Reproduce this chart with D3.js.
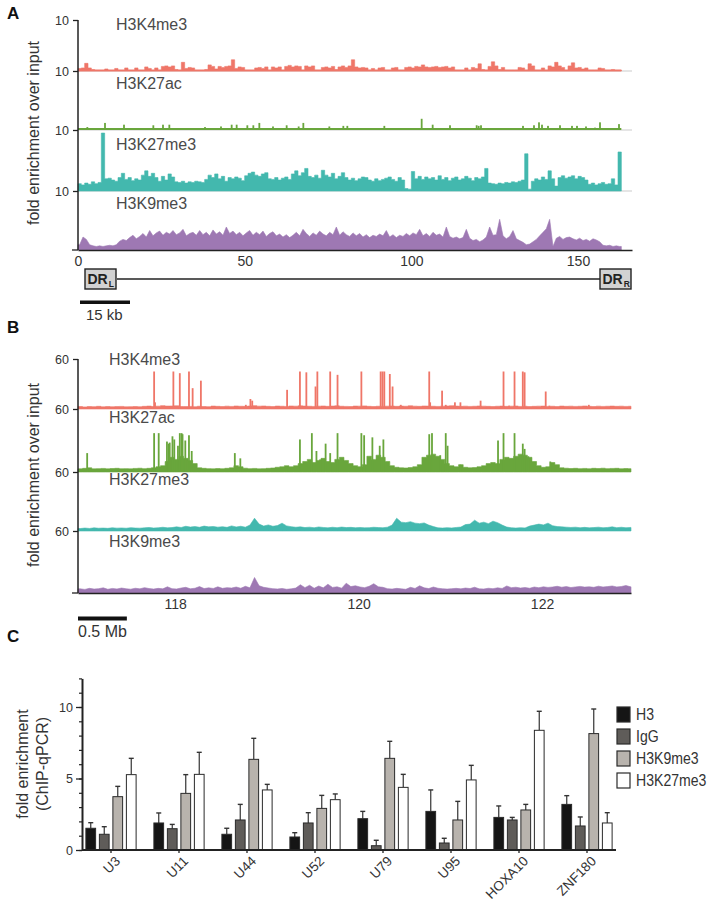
<!DOCTYPE html>
<html><head><meta charset="utf-8">
<script src="https://cdn.jsdelivr.net/npm/d3@7"></script>
<style>
body{margin:0;background:#fff}
svg{display:block;font-family:"Liberation Sans",Arial,Helvetica,sans-serif}
</style>
</head><body>
<svg id="c" width="708" height="905"></svg>
<script>
// ---------------- DATA ----------------
// Panel A: 1-kb bins from 0 kb (fold enrichment, track scale 0-10)
const A_K4me3 = [
0.5,0.6,1.5,0.6,0.3,0.2,0.2,0.2,0.4,0.2, 0.2,0.5,0.2,0.2,0.6,0.2,0.2,0.6,0.2,0.2,
0.8,0.5,0.2,0.6,0.2,0.9,1.0,0.8,1.0,0.3, 0.2,1.7,0.5,0.7,0.6,0.2,0.2,0.2,0.3,1.2,
0.9,0.4,0.9,0.7,0.9,1.0,2.2,0.5,0.8,0.7, 0.2,0.2,0.2,0.6,0.7,0.5,0.8,0.2,0.8,0.6,
0.8,0.2,0.9,1.1,0.8,1.0,0.9,0.2,1.0,0.8, 1.0,0.2,0.2,0.7,0.8,0.6,0.9,0.3,0.8,1.0,
0.7,1.0,2.2,0.8,0.6,0.7,0.6,0.2,0.5,0.2, 0.6,0.7,0.2,0.2,0.6,0.7,0.2,0.2,0.7,0.8,
0.6,0.9,0.8,1.2,0.8,0.7,0.8,0.9,0.7,0.8, 0.9,0.6,0.8,0.2,0.2,0.2,0.6,0.2,0.7,0.5,
1.4,0.3,0.2,0.9,1.8,1.0,0.3,0.7,0.2,0.2, 0.2,0.2,0.7,0.6,0.2,1.4,1.0,0.2,0.2,0.6,
0.2,1.0,0.8,1.7,1.0,0.7,0.2,1.0,1.6,0.6, 0.7,0.4,0.6,0.2,0.2,0.2,0.6,0.5,0.2,0.2,
0.3,0.2,0.2];
const A_K27ac_base = 0.15;
const A_K27ac_peaks = [[2.8,0.5],[8.1,1.2],[13.8,0.9],[22.6,0.8],[25.5,0.9],[27.4,0.9],[38.1,0.5],[42.9,0.6],[46.1,0.9],[47.6,0.9],
[50.8,0.8],[52.6,0.8],[54.4,1.2],[58.5,0.6],[62.6,0.8],[66.2,0.6],[67.6,1.2],[75.4,0.6],[79.6,0.7],[80.8,0.7],
[91.9,0.7],[103.1,1.9],[106.4,0.9],[111.6,0.8],[119.6,0.8],[120.2,0.7],[120.9,0.8],[133.5,0.7],[136.8,0.8],[138.3,1.3],
[139.2,0.9],[141.0,0.7],[144.6,0.8],[148.2,0.7],[149.7,0.7],[152.4,0.6],[155.1,0.4],[156.6,1.3],[162.3,1.0]];
const A_K27me3 = [
1.2,1.0,1.3,1.1,1.5,1.2,1.4,9.5,2.0,2.1, 1.8,1.6,2.2,2.9,1.9,2.2,1.7,2.0,1.8,2.6,
3.3,2.4,2.9,2.2,1.6,2.4,1.8,2.8,2.3,1.5, 1.4,1.6,1.3,1.5,1.4,1.6,1.5,1.4,1.9,2.6,
2.2,2.8,2.0,2.4,1.6,2.2,2.0,2.3,2.1,1.7, 2.5,2.9,3.1,2.6,2.4,2.8,3.0,2.0,1.9,2.2,
1.8,2.1,2.3,1.9,2.8,3.3,2.5,3.0,3.7,2.4, 2.2,2.6,2.1,3.4,2.6,2.3,2.9,2.0,2.4,3.0,
2.2,1.8,2.1,1.7,2.0,2.3,2.2,1.8,1.6,2.0, 1.7,1.9,2.1,2.3,1.9,1.6,2.2,1.8,0.4,0.3,
3.2,2.0,2.4,1.9,2.3,2.0,2.2,1.8,2.5,1.9, 2.2,1.7,2.1,2.3,1.8,2.0,2.4,2.1,1.7,2.2,
2.0,2.3,3.7,1.3,1.2,1.1,1.3,1.2,1.4,1.3, 1.5,1.4,1.6,1.8,6.1,0.3,1.6,2.0,1.8,2.3,
1.9,3.3,2.0,0.8,2.2,2.5,2.1,2.3,2.5,2.0, 2.4,2.2,1.8,1.1,1.3,1.0,1.2,1.4,1.1,1.2,
2.0,1.0,6.4];
const A_K9me3 = [
0.9,2.2,1.8,0.9,0.7,0.6,0.7,0.6,0.7,0.8, 0.7,0.9,1.5,1.8,1.6,2.1,2.5,1.9,2.3,2.8,
2.2,3.3,2.4,2.9,3.2,2.5,3.0,2.7,3.3,2.6, 2.9,3.5,2.4,2.8,3.0,2.5,3.3,2.6,3.0,2.4,
3.4,2.7,3.1,2.5,3.9,2.8,3.2,2.6,3.0,2.4, 2.9,3.3,2.5,3.0,2.6,3.2,2.3,2.8,3.1,2.4,
2.7,2.2,2.6,2.1,2.5,3.0,2.4,3.5,2.8,2.3, 2.9,2.5,3.2,2.7,2.4,3.0,2.6,3.9,2.5,3.1,
2.6,2.3,2.9,2.4,2.8,2.2,2.6,2.1,2.5,2.3, 2.7,2.4,3.3,2.2,2.6,2.1,2.5,2.3,2.8,2.4,
2.9,2.6,3.5,2.4,2.8,2.3,3.0,2.5,2.7,2.2, 3.9,2.3,2.0,2.2,1.9,2.1,3.5,2.0,1.6,1.8,
1.4,1.7,2.2,3.9,2.5,2.6,5.2,2.4,1.9,2.3, 3.3,1.9,1.6,1.3,0.9,1.0,1.4,1.8,2.4,3.0,
3.6,5.2,0.6,2.0,2.3,1.8,2.1,2.2,1.9,1.7, 2.0,1.6,1.8,1.5,1.9,1.7,1.4,0.8,0.7,0.8,
0.6,0.7,0.6];
const A_ticks = [0, 50, 100, 150];

// Panel B: 0.05-Mb bins from 116.94 Mb (track scale 0-60)
const B_K4me3_bg = [
3,2.5,3,2.8,3.2,2.6,3,2.7,2.9,3.1, 2.6,2.8,3,2.7,3.2,3.5,3,3.4,4,3.5,
3.6,3.8,3,2.9,3.1,2.7,3.3,3,2.8,3.5, 3.2,3,3.4,3.1,3.6,3.3,3.2,3.5,4,3.4,
3.6,3.2,3,3.5,3.3,3.1,3.6,3.4,3.8,3.5, 3.3,3.1,3.4,3.6,3.2,3.5,3.8,3.3,3.1,3,
3.5,3.4,3.7,3.2,3,3.3,3.1,3.4,3.6,3.2, 3.5,3.3,3.8,3.4,3.2,3.6,3.5,3.3,3.1,3.4,
3.6,3.9,3.5,3.2,3.4,3.1,3.3,3.6,3.4,3.2, 3,3.3,3.5,3.2,3.4,3.6,3.1,3.3,3,3.2,
3.4,3.5,3.1,3.3,3,3.5,3.2,3.4,3.1,3.3, 3.6,3.2,3,3.4,3.1,3.3,3.5,3.2,3.4,3.1,
3.3];
const B_K4me3_peaks = [[117.77,45],[117.78,8],[117.98,45],[118.05,43],[118.15,45],[118.19,25],[118.28,34],[118.77,5],[118.82,12],[118.84,10],
[119.22,23],[119.36,45],[119.43,44],[119.53,27],[119.55,45],[119.69,45],[119.77,41],[120.03,45],[120.24,45],[120.26,45],
[120.28,45],[120.34,42],[120.37,27],[120.46,5],[120.77,45],[120.78,8],[120.91,22],[120.95,5],[121.05,8],[121.11,8],
[121.33,10],[121.58,45],[121.64,4],[121.70,45],[121.79,45],[121.81,44],[122.04,21],[122.08,4],[122.51,5]];
const B_K27ac_bg = [
3,3.5,4,3,3.2,3.4,3,3.3,3.5,3.1, 3.2,3,3.4,3.6,3.2,3.5,4,5,6,10,
14,12,15,13,11,8,4,3.5,3.2,3, 3.3,3.1,3.5,4,6,5,3.6,3.2,3.4,3,
3.2,3.5,3.8,4.5,5,6,5,6,8,10, 12,9,11,13,10,9,12,14,11,8,
6,5,7,15,12,16,14,10,6,4.5, 4,3.8,4.2,5,7,14,16,17,15,12,
8,6,5,7,4.5,4,4.2,5,6,8, 9,8,12,14,13,15,17,16,14,10,
6,4.5,5,9,7,4,3.6,3.3,3.5,3.2, 3.4,3.1,3.5,3.3,3.6,3.2,3.4,3.5,3.1,3.3,
3.2];
const B_K27ac_peaks = [[117.04,18],[117.77,37],[117.82,37],[117.91,29],[117.93,27],[117.94,28],[117.97,34],[117.99,31],[118.03,25],[118.05,37],
[118.07,37],[118.08,36],[118.11,30],[118.15,35],[118.18,20],[118.65,18],[118.71,13],[119.21,5],[119.36,31],[119.49,37],
[119.54,20],[119.58,12],[119.64,27],[119.69,18],[119.77,37],[120.03,37],[120.06,35],[120.15,33],[120.23,25],[120.27,31],
[120.77,36],[120.80,37],[120.89,16],[120.95,37],[120.97,25],[121.11,7],[121.52,30],[121.58,37],[121.70,37],[121.79,27],
[121.81,22],[121.85,15],[122.09,10]];
const B_K27me3 = [
2.5,3,2.6,3.2,2.8,3,2.7,3.3,2.9,3.1, 2.8,3.4,3,2.9,3.2,3.6,3,3.3,3.8,3.2,
3.5,4.2,3.6,4.8,4,4.5,3.8,5,4.2,4.6, 3.9,4.4,3.7,5.2,4.1,4.8,3.9,6,13,7,
5,6.2,4.8,5.5,8,5.2,4.4,3.8,4.2,3.5, 3.9,3.3,4.1,3.6,3.2,3.8,3.4,4,3.5,3.7,
3.3,3.6,3.2,3.4,3.8,3.5,3.3,3.9,6,13, 9,8.5,9.5,8,7.5,8.2,6,4.5,3.2,3,
3.4,3.1,3.6,4,6.5,7,11,8,9,7.5, 10,8.5,6,4,3.3,3,3.4,3.1,5,6,
7,6.2,8,5.4,4.5,4.2,3.9,3.6,3.9,3.3, 3.7,3.2,3.5,3.9,3.3,3.6,4.2,3.4,3.8,3.3,
3.6];
const B_K9me3 = [
4,3.5,4.5,3.8,4.2,5,3.6,4.4,3.9,4.8, 4.1,3.7,4.6,4,5.2,4.3,3.8,4.5,4,6,
4.2,3.9,4.8,5.5,4.1,4.6,6.2,4.3,5,4.4, 6,4.5,5.2,4.8,5.8,4.6,6.5,5,15,7,
5.5,4.8,4.2,3.9,4.4,3.6,4,4.8,8,5.2, 7.5,4.6,6.8,5,8.5,5.4,6,4.7,9.5,6.2,
7,5.8,5.2,6.5,9,6,5.5,4.2,3.8,4.5, 4,3.6,5.5,4.4,7,5,4.3,5.8,4.6,4.1,
3.8,4.2,4.5,4,4.8,4.3,5.6,4,3.9,4.6, 4.2,5,4.4,6.8,5.2,5.6,4.8,5.3,4.6,5.8,
5.1,6,5.4,5.8,6.5,5.6,6.2,5.3,5.9,6.4, 5.7,6,5.5,6.6,5.8,6.2,6.8,5.9,6.3,7.2,
6];
const B_ticks = [118, 120, 122];

// Panel C: ChIP-qPCR fold enrichment (mean, SD)
const C_categories = ["U3","U11","U44","U52","U79","U95","HOXA10","ZNF180"];
const C_series = ["H3","IgG","H3K9me3","H3K27me3"];
const C_H3       = [1.52,1.89,1.10,0.91,2.19,2.70,2.28,3.19];
const C_H3_sd    = [0.39,0.70,0.42,0.30,0.51,1.50,0.80,0.61];
const C_IgG      = [1.10,1.49,2.10,1.89,0.30,0.49,2.10,1.68];
const C_IgG_sd   = [0.53,0.30,1.09,0.72,0.38,0.33,0.18,0.63];
const C_K9me3    = [3.73,3.96,6.34,2.91,6.41,2.10,2.80,8.14];
const C_K9me3_sd = [0.72,1.31,1.47,0.91,1.19,1.30,0.39,1.72];
const C_K27me3   = [5.27,5.29,4.20,3.52,4.38,4.90,8.37,1.89];
const C_K27me3_sd= [1.14,1.54,0.39,0.40,0.91,1.02,1.33,0.72];
const C_yticks = [0, 5, 10];

// ---------------- STYLE ----------------
const COL = {K4:"#ef7668", K27ac:"#69a63c", K27me3:"#43b8ae", K9:"#9e78b3"};
const BAR_COL = {"H3":"#151515","IgG":"#5f5c59","H3K9me3":"#b8b3ad","H3K27me3":"#ffffff"};
const AX = "#222";
const TXT = "#333";

const svg = d3.select("#c");

function denseArea(g, vals, start, binW, x, y, color, curve) {
  const n = vals.length;
  const pts = [{p:start, v:vals[0]}].concat(vals.map((v,i)=>({p:start+(i+0.5)*binW, v}))).concat([{p:start+n*binW, v:vals[n-1]}]);
  g.append("path").datum(pts)
    .attr("fill", color).attr("stroke", color).attr("stroke-width", 0.6)
    .attr("d", d3.area().x(d=>x(d.p)).y0(y(0)).y1(d=>y(d.v)).curve(curve));
}
function peakBars(g, peaks, x, y, color, w) {
  g.selectAll(null).data(peaks).enter().append("rect")
    .attr("x", d=>x(d[0]) - w/2).attr("width", w)
    .attr("y", d=>y(d[1])).attr("height", d=>y(0)-y(d[1]))
    .attr("fill", color);
}
function label(g, x, y, t) {
  g.append("text").attr("x", x).attr("y", y).attr("font-size", 16).attr("fill", "#4a4a4a").text(t);
}

// ---------------- PANEL A ----------------
{
  const g = svg.append("g");
  const x = d3.scaleLinear().domain([0, 166.2]).range([78, 632]).clamp(true);
  const tops = [20, 71, 130, 191], bots = [71, 130, 191, 250];
  const ys = tops.map((t,i)=>d3.scaleLinear().domain([0,10]).range([bots[i], t]));
  [0,1,2].forEach(i=>g.append("line").attr("x1",78).attr("x2",632).attr("y1",bots[i]).attr("y2",bots[i]).attr("stroke","#dcdcdc").attr("stroke-width",1.5));
  denseArea(g, A_K4me3, 0, 1, x, ys[0], COL.K4, d3.curveStep);
  g.append("line").attr("x1",x(0)).attr("x2",x(A_K4me3.length)).attr("y1",ys[0](0.1)).attr("y2",ys[0](0.1)).attr("stroke",COL.K4).attr("stroke-width",1.6);
  g.append("line").attr("x1",x(0)).attr("x2",x(A_K4me3.length)).attr("y1",ys[1](A_K27ac_base)).attr("y2",ys[1](A_K27ac_base)).attr("stroke",COL.K27ac).attr("stroke-width",2);
  peakBars(g, A_K27ac_peaks, x, ys[1], COL.K27ac, 1.8);
  denseArea(g, A_K27me3, 0, 1, x, ys[2], COL.K27me3, d3.curveStep);
  denseArea(g, A_K9me3, 0, 1, x, ys[3], COL.K9, d3.curveLinear);
  label(g, 116, 30, "H3K4me3");
  label(g, 116, 89, "H3K27ac");
  label(g, 116, 150, "H3K27me3");
  label(g, 116, 209, "H3K9me3");
  ys.forEach(ysc=>{
    const a = g.append("g").attr("transform","translate(78,0)")
      .call(d3.axisLeft(ysc).tickValues([10]).tickSize(5).tickPadding(4));
    a.select(".domain").remove();
    a.selectAll("line").attr("stroke",AX).attr("stroke-width",1.3);
    a.selectAll("text").attr("font-size",12.5).attr("fill",TXT).attr("font-family",null);
  });
  g.append("line").attr("x1",78).attr("x2",78).attr("y1",20).attr("y2",250).attr("stroke",AX).attr("stroke-width",1.5);
  g.append("line").attr("x1",72).attr("x2",78).attr("y1",250).attr("y2",250).attr("stroke",AX).attr("stroke-width",1.3);
  const xa = g.append("g").attr("transform","translate(0,250)")
    .call(d3.axisBottom(x).tickValues(A_ticks).tickSize(0).tickPadding(6).tickFormat(d3.format("d")));
  xa.select(".domain").attr("stroke",AX).attr("stroke-width",1.5);
  xa.selectAll("text").attr("font-size",14).attr("fill",TXT).attr("font-family",null);
  g.append("text").attr("transform","translate(39,133) rotate(-90)").attr("text-anchor","middle")
    .attr("font-size",16).attr("fill",TXT).text("fold enrichment over input");
  g.append("line").attr("x1",117).attr("x2",600).attr("y1",279).attr("y2",279).attr("stroke",AX).attr("stroke-width",1.3);
  [[85,"L"],[600,"R"]].forEach(([bx,s])=>{
    g.append("rect").attr("x",bx).attr("y",269).attr("width",31).attr("height",20)
      .attr("fill","#d2d2d2").attr("stroke",AX).attr("stroke-width",1.4);
    const t = g.append("text").attr("x",bx+2.5).attr("y",284).attr("font-size",14).attr("font-weight","bold").attr("fill","#222");
    t.append("tspan").text("DR");
    t.append("tspan").attr("font-size",8.5).attr("dy",3).attr("dx",1).text(s);
  });
  g.append("rect").attr("x",x(0)+2).attr("y",300.5).attr("width",x(15)-x(0)).attr("height",3.5).attr("fill","#111");
  g.append("text").attr("x",86).attr("y",320).attr("font-size",15).attr("fill",TXT).text("15 kb");
  g.append("text").attr("x",7).attr("y",19).attr("font-size",17).attr("font-weight","bold").attr("fill","#111").text("A");
}

// ---------------- PANEL B ----------------
{
  const g = svg.append("g");
  const x = d3.scaleLinear().domain([116.94, 122.97]).range([78, 631]).clamp(true);
  const tops = [359, 409, 472, 531], bots = [409, 472, 531, 593];
  const ys = tops.map((t,i)=>d3.scaleLinear().domain([0,60]).range([bots[i], t]));
  const s0 = 116.94, bw = 0.05;
  denseArea(g, B_K4me3_bg, s0, bw, x, ys[0], COL.K4, d3.curveStep);
  peakBars(g, B_K4me3_peaks, x, ys[0], COL.K4, 1.8);
  denseArea(g, B_K27ac_bg, s0, bw, x, ys[1], COL.K27ac, d3.curveStep);
  peakBars(g, B_K27ac_peaks, x, ys[1], COL.K27ac, 1.8);
  denseArea(g, B_K27me3, s0, bw, x, ys[2], COL.K27me3, d3.curveLinear);
  denseArea(g, B_K9me3, s0, bw, x, ys[3], COL.K9, d3.curveLinear);
  label(g, 109, 365, "H3K4me3");
  label(g, 109, 423, "H3K27ac");
  label(g, 109, 485, "H3K27me3");
  label(g, 109, 547, "H3K9me3");
  ys.forEach(ysc=>{
    const a = g.append("g").attr("transform","translate(78,0)")
      .call(d3.axisLeft(ysc).tickValues([60]).tickSize(5).tickPadding(4));
    a.select(".domain").remove();
    a.selectAll("line").attr("stroke",AX).attr("stroke-width",1.3);
    a.selectAll("text").attr("font-size",12.5).attr("fill",TXT).attr("font-family",null);
  });
  g.append("line").attr("x1",78).attr("x2",78).attr("y1",359).attr("y2",593).attr("stroke",AX).attr("stroke-width",1.5);
  g.append("line").attr("x1",72).attr("x2",78).attr("y1",593).attr("y2",593).attr("stroke",AX).attr("stroke-width",1.3);
  const xa = g.append("g").attr("transform","translate(0,593)")
    .call(d3.axisBottom(x).tickValues(B_ticks).tickSize(0).tickPadding(6).tickFormat(d3.format("d")));
  xa.select(".domain").attr("stroke",AX).attr("stroke-width",1.5);
  xa.selectAll("text").attr("font-size",14).attr("fill",TXT).attr("font-family",null);
  g.append("text").attr("transform","translate(39,475) rotate(-90)").attr("text-anchor","middle")
    .attr("font-size",16).attr("fill",TXT).text("fold enrichment over input");
  g.append("rect").attr("x",x(116.94)).attr("y",616.5).attr("width",x(117.44)-x(116.94)+3).attr("height",4).attr("fill","#111");
  g.append("text").attr("x",78).attr("y",637).attr("font-size",16).attr("fill",TXT).text("0.5 Mb");
  g.append("text").attr("x",7).attr("y",333).attr("font-size",17).attr("font-weight","bold").attr("fill","#111").text("B");
}

// ---------------- PANEL C ----------------
{
  const g = svg.append("g");
  const x0 = d3.scaleBand().domain(C_categories).range([77, 621]);
  const x1 = d3.scaleBand().domain(C_series).range([-27, 27]).paddingInner(0.28).paddingOuter(0.14);
  const y = d3.scaleLinear().domain([0, 12]).range([850, 678.4]);
  const vals = {"H3":[C_H3,C_H3_sd],"IgG":[C_IgG,C_IgG_sd],"H3K9me3":[C_K9me3,C_K9me3_sd],"H3K27me3":[C_K27me3,C_K27me3_sd]};
  const rows = [];
  C_categories.forEach((c,i)=>C_series.forEach(s=>rows.push({c, s, v:vals[s][0][i], e:vals[s][1][i]})));
  const cx = d=>x0(d.c) + x0.bandwidth()/2 + x1(d.s);
  g.selectAll(null).data(rows).enter().append("line")
    .attr("x1",d=>cx(d)+x1.bandwidth()/2).attr("x2",d=>cx(d)+x1.bandwidth()/2)
    .attr("y1",d=>y(d.v)).attr("y2",d=>y(d.v+d.e)).attr("stroke","#333").attr("stroke-width",1.2);
  g.selectAll(null).data(rows).enter().append("line")
    .attr("x1",d=>cx(d)+x1.bandwidth()/2-2.5).attr("x2",d=>cx(d)+x1.bandwidth()/2+2.5)
    .attr("y1",d=>y(d.v+d.e)).attr("y2",d=>y(d.v+d.e)).attr("stroke","#333").attr("stroke-width",1.4);
  g.selectAll(null).data(rows).enter().append("rect")
    .attr("x",cx).attr("width",x1.bandwidth())
    .attr("y",d=>y(d.v)).attr("height",d=>y(0)-y(d.v))
    .attr("fill",d=>BAR_COL[d.s]).attr("stroke","#2a2a2a").attr("stroke-width",1);
  const ym = g.append("g").attr("transform","translate(82,0)")
    .call(d3.axisLeft(y).tickValues(d3.range(0,13)).tickSize(3).tickFormat(""));
  ym.select(".domain").remove();
  ym.selectAll("line").attr("stroke",AX).attr("stroke-width",1.2);
  const ya = g.append("g").attr("transform","translate(82,0)")
    .call(d3.axisLeft(y).tickValues(C_yticks).tickSize(6).tickSizeOuter(0).tickPadding(3));
  ya.select(".domain").attr("stroke",AX).attr("stroke-width",2);
  ya.selectAll("line").attr("stroke",AX).attr("stroke-width",1.3);
  ya.selectAll("text").attr("font-size",12.5).attr("fill",TXT).attr("font-family",null);
  const xa = g.append("g").attr("transform","translate(0,850)")
    .call(d3.axisBottom(x0).tickSize(3).tickSizeOuter(0));
  xa.select(".domain").attr("d","M82,0H616").attr("stroke",AX).attr("stroke-width",2);
  xa.selectAll("line").attr("stroke",AX).attr("stroke-width",1.3);
  xa.selectAll("text").attr("font-size",13.5).attr("fill",TXT).attr("font-family",null)
    .attr("y",0).attr("dy",0).attr("text-anchor","end").attr("transform","translate(10,12) rotate(-45)");
  const yt = g.append("text").attr("transform","translate(0,764) rotate(-90)").attr("text-anchor","middle")
    .attr("font-size",16).attr("fill",TXT);
  yt.append("tspan").attr("x",0).attr("y",28).text("fold enrichment");
  yt.append("tspan").attr("x",0).attr("y",48).text("(ChIP-qPCR)");
  const lg = g.append("g").attr("transform","translate(617,707)");
  C_series.forEach((s,i)=>{
    lg.append("rect").attr("x",0).attr("y",i*22).attr("width",13).attr("height",15)
      .attr("fill",BAR_COL[s]).attr("stroke","#2a2a2a").attr("stroke-width",1.2);
    lg.append("text").attr("transform",`translate(19,${i*22+13}) scale(0.88,1)`)
      .attr("font-size",16).attr("fill",TXT).text(s);
  });
  g.append("text").attr("x",7).attr("y",642).attr("font-size",17).attr("font-weight","bold").attr("fill","#111").text("C");
}
</script>
</body></html>
